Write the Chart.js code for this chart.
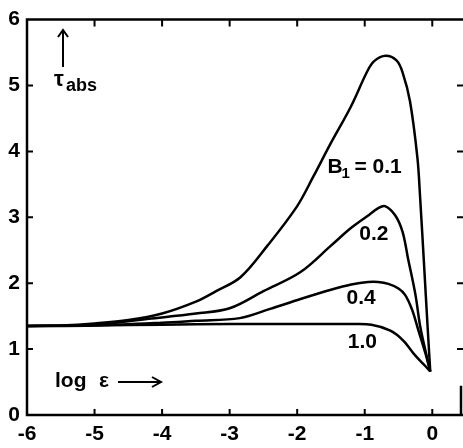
<!DOCTYPE html>
<html>
<head>
<meta charset="utf-8">
<script src="https://cdn.jsdelivr.net/npm/chart.js@4/dist/chart.umd.min.js"></script>
<style>
  html, body { margin: 0; padding: 0; background: #fff; }
  #wrap { width: 463px; height: 448px; position: relative; }
</style>
</head>
<body>
<div id="wrap"><canvas id="chart"></canvas></div>
<script>
// tick values
const xTicks = [-6, -5, -4, -3, -2, -1, 0]
const yTicks = [0, 1, 2, 3, 4, 5, 6]

// curve labels (B1)
const curveLabels = ['0.1', '0.2', '0.4', '1.0']

// log eps / tau_abs
const logEps01 = [-6, -5.5, -5, -4.5, -4, -3.5, -3.2, -2.84, -2.44, -2.0, -1.76, -1.51, -1.21, -0.96, -0.86, -0.69, -0.53, -0.44, -0.33, -0.22, -0.18, -0.12, -0.07, -0.03]
const tau01 = [1.35, 1.36, 1.39, 1.44, 1.54, 1.72, 1.88, 2.09, 2.57, 3.17, 3.62, 4.11, 4.67, 5.22, 5.37, 5.45, 5.38, 5.20, 4.76, 3.90, 3.30, 2.25, 1.35, 0.66]

const logEps02 = [-6, -5, -4.2, -3.5, -3.0, -2.5, -1.95, -1.5, -1.2, -0.96, -0.8, -0.7, -0.55, -0.44, -0.36, -0.25, -0.18, -0.1, -0.03]
const tau02 = [1.35, 1.37, 1.46, 1.54, 1.62, 1.88, 2.17, 2.57, 2.84, 3.02, 3.14, 3.17, 3.03, 2.78, 2.38, 1.83, 1.35, 0.97, 0.66]

const logEps04 = [-6, -5, -4, -3.5, -2.85, -2.4, -1.95, -1.5, -1.2, -0.95, -0.8, -0.65, -0.5, -0.4, -0.3, -0.21, -0.1, -0.03]
const tau04 = [1.35, 1.36, 1.40, 1.43, 1.47, 1.61, 1.76, 1.90, 1.98, 2.02, 2.02, 1.99, 1.92, 1.82, 1.60, 1.30, 0.93, 0.66]

const logEps10 = [-6, -5, -4, -3, -2, -1.2, -0.9, -0.62, -0.43, -0.25, -0.1, -0.03]
const tau10 = [1.35, 1.36, 1.37, 1.38, 1.38, 1.38, 1.37, 1.28, 1.13, 0.90, 0.74, 0.66]

const xSeries = [logEps01, logEps02, logEps04, logEps10]
const ySeries = [tau01, tau02, tau04, tau10]

const ink = '#000000'
const labelFont = "'Liberation Sans', Arial, sans-serif"

const datasets = curveLabels.map((label, i) => ({
  label,
  data: xSeries[i].map((v, j) => ({ x: v, y: ySeries[i][j] })),
  showLine: true,
  borderColor: ink,
  borderWidth: 2.5,
  pointRadius: 0,
  tension: 0.35,
  fill: false,
}))

// frame with inward ticks, plus the texts written inside the plot
const framePlugin = {
  id: 'frame',
  afterDraw(chart) {
    const { ctx, chartArea: area, scales } = chart
    const sx = scales.x
    const sy = scales.y
    ctx.save()
    ctx.strokeStyle = ink
    ctx.fillStyle = ink
    ctx.lineWidth = 2.5
    ctx.lineCap = 'square'

    ctx.beginPath()
    ctx.moveTo(area.right, area.top)
    ctx.lineTo(area.left, area.top)
    ctx.lineTo(area.left, area.bottom)
    ctx.lineTo(area.right, area.bottom)
    ctx.moveTo(area.right - 1, area.bottom)
    ctx.lineTo(area.right - 1, area.bottom - 28)
    ctx.stroke()

    ctx.lineCap = 'butt'
    ctx.lineWidth = 2
    ctx.beginPath()
    xTicks.slice(1).forEach((v) => {
      const px = sx.getPixelForValue(v)
      ctx.moveTo(px, area.bottom)
      ctx.lineTo(px, area.bottom - 6)
      ctx.moveTo(px, area.top)
      ctx.lineTo(px, area.top + 7)
    })
    yTicks.slice(1, -1).forEach((v) => {
      const py = sy.getPixelForValue(v)
      ctx.moveTo(area.left, py)
      ctx.lineTo(area.left + 6, py)
      ctx.moveTo(area.right + 1, py)
      ctx.lineTo(area.right - 5, py)
    })
    ctx.stroke()

    // curve labels
    ctx.textBaseline = 'alphabetic'
    ctx.textAlign = 'left'
    ctx.font = 'bold 21px ' + labelFont
    const bx = sx.getPixelForValue(-1.55)
    const by = sy.getPixelForValue(3.67)
    ctx.fillText('B', bx, by)
    ctx.fillText('=', bx + 27, by)
    ctx.fillText(curveLabels[0], bx + 45, by)
    ctx.font = 'bold 15px ' + labelFont
    ctx.fillText('1', bx + 14, by + 5)
    ctx.font = 'bold 21px ' + labelFont
    ctx.fillText(curveLabels[1], sx.getPixelForValue(-1.08), sy.getPixelForValue(2.66))
    ctx.fillText(curveLabels[2], sx.getPixelForValue(-1.27), sy.getPixelForValue(1.68))
    ctx.fillText(curveLabels[3], sx.getPixelForValue(-1.25), sy.getPixelForValue(1.02))

    // axis names with arrows
    ctx.fillText('log', 55, 387)
    ctx.fillText('ε', 99, 387)
    ctx.lineWidth = 2
    ctx.beginPath()
    ctx.moveTo(118, 382)
    ctx.lineTo(161, 382)
    ctx.moveTo(152, 377)
    ctx.lineTo(161, 382)
    ctx.lineTo(152, 387)
    ctx.moveTo(63, 67)
    ctx.lineTo(63, 30)
    ctx.moveTo(58, 37)
    ctx.lineTo(63, 30)
    ctx.lineTo(68, 37)
    ctx.stroke()
    ctx.font = 'bold 22px ' + labelFont
    ctx.fillText('τ', 54, 86)
    ctx.font = 'bold 18px ' + labelFont
    ctx.fillText('abs', 66, 91)
    ctx.restore()
  },
}

const config = {
  type: 'scatter',
  data: { datasets },
  options: {
    responsive: true,
    maintainAspectRatio: false,
    animation: false,
    devicePixelRatio: 1,
    layout: { padding: { top: 14, right: 1, left: 0, bottom: 0 } },
    plugins: {
      legend: { display: false },
      tooltip: { enabled: false },
    },
    scales: {
      x: {
        type: 'linear',
        min: -6,
        max: 0.44,
        afterBuildTicks: (scale) => {
          scale.ticks = xTicks.map((v) => ({ value: v }))
        },
        afterFit: (scale) => {
          scale.height = 33
        },
        grid: { display: false, drawTicks: false },
        border: { display: false },
        ticks: {
          color: ink,
          padding: 7,
          maxRotation: 0,
          autoSkip: false,
          font: { family: labelFont, size: 21, weight: 'bold' },
        },
      },
      y: {
        type: 'linear',
        min: 0,
        max: 6,
        afterBuildTicks: (scale) => {
          scale.ticks = yTicks.map((v) => ({ value: v }))
        },
        afterFit: (scale) => {
          scale.width = 27
        },
        grid: { display: false, drawTicks: false },
        border: { display: false },
        ticks: {
          color: ink,
          padding: 7,
          autoSkip: false,
          font: { family: labelFont, size: 21, weight: 'bold' },
        },
      },
    },
  },
  plugins: [framePlugin],
}

new Chart(document.getElementById('chart').getContext('2d'), config)
</script>
</body>
</html>
